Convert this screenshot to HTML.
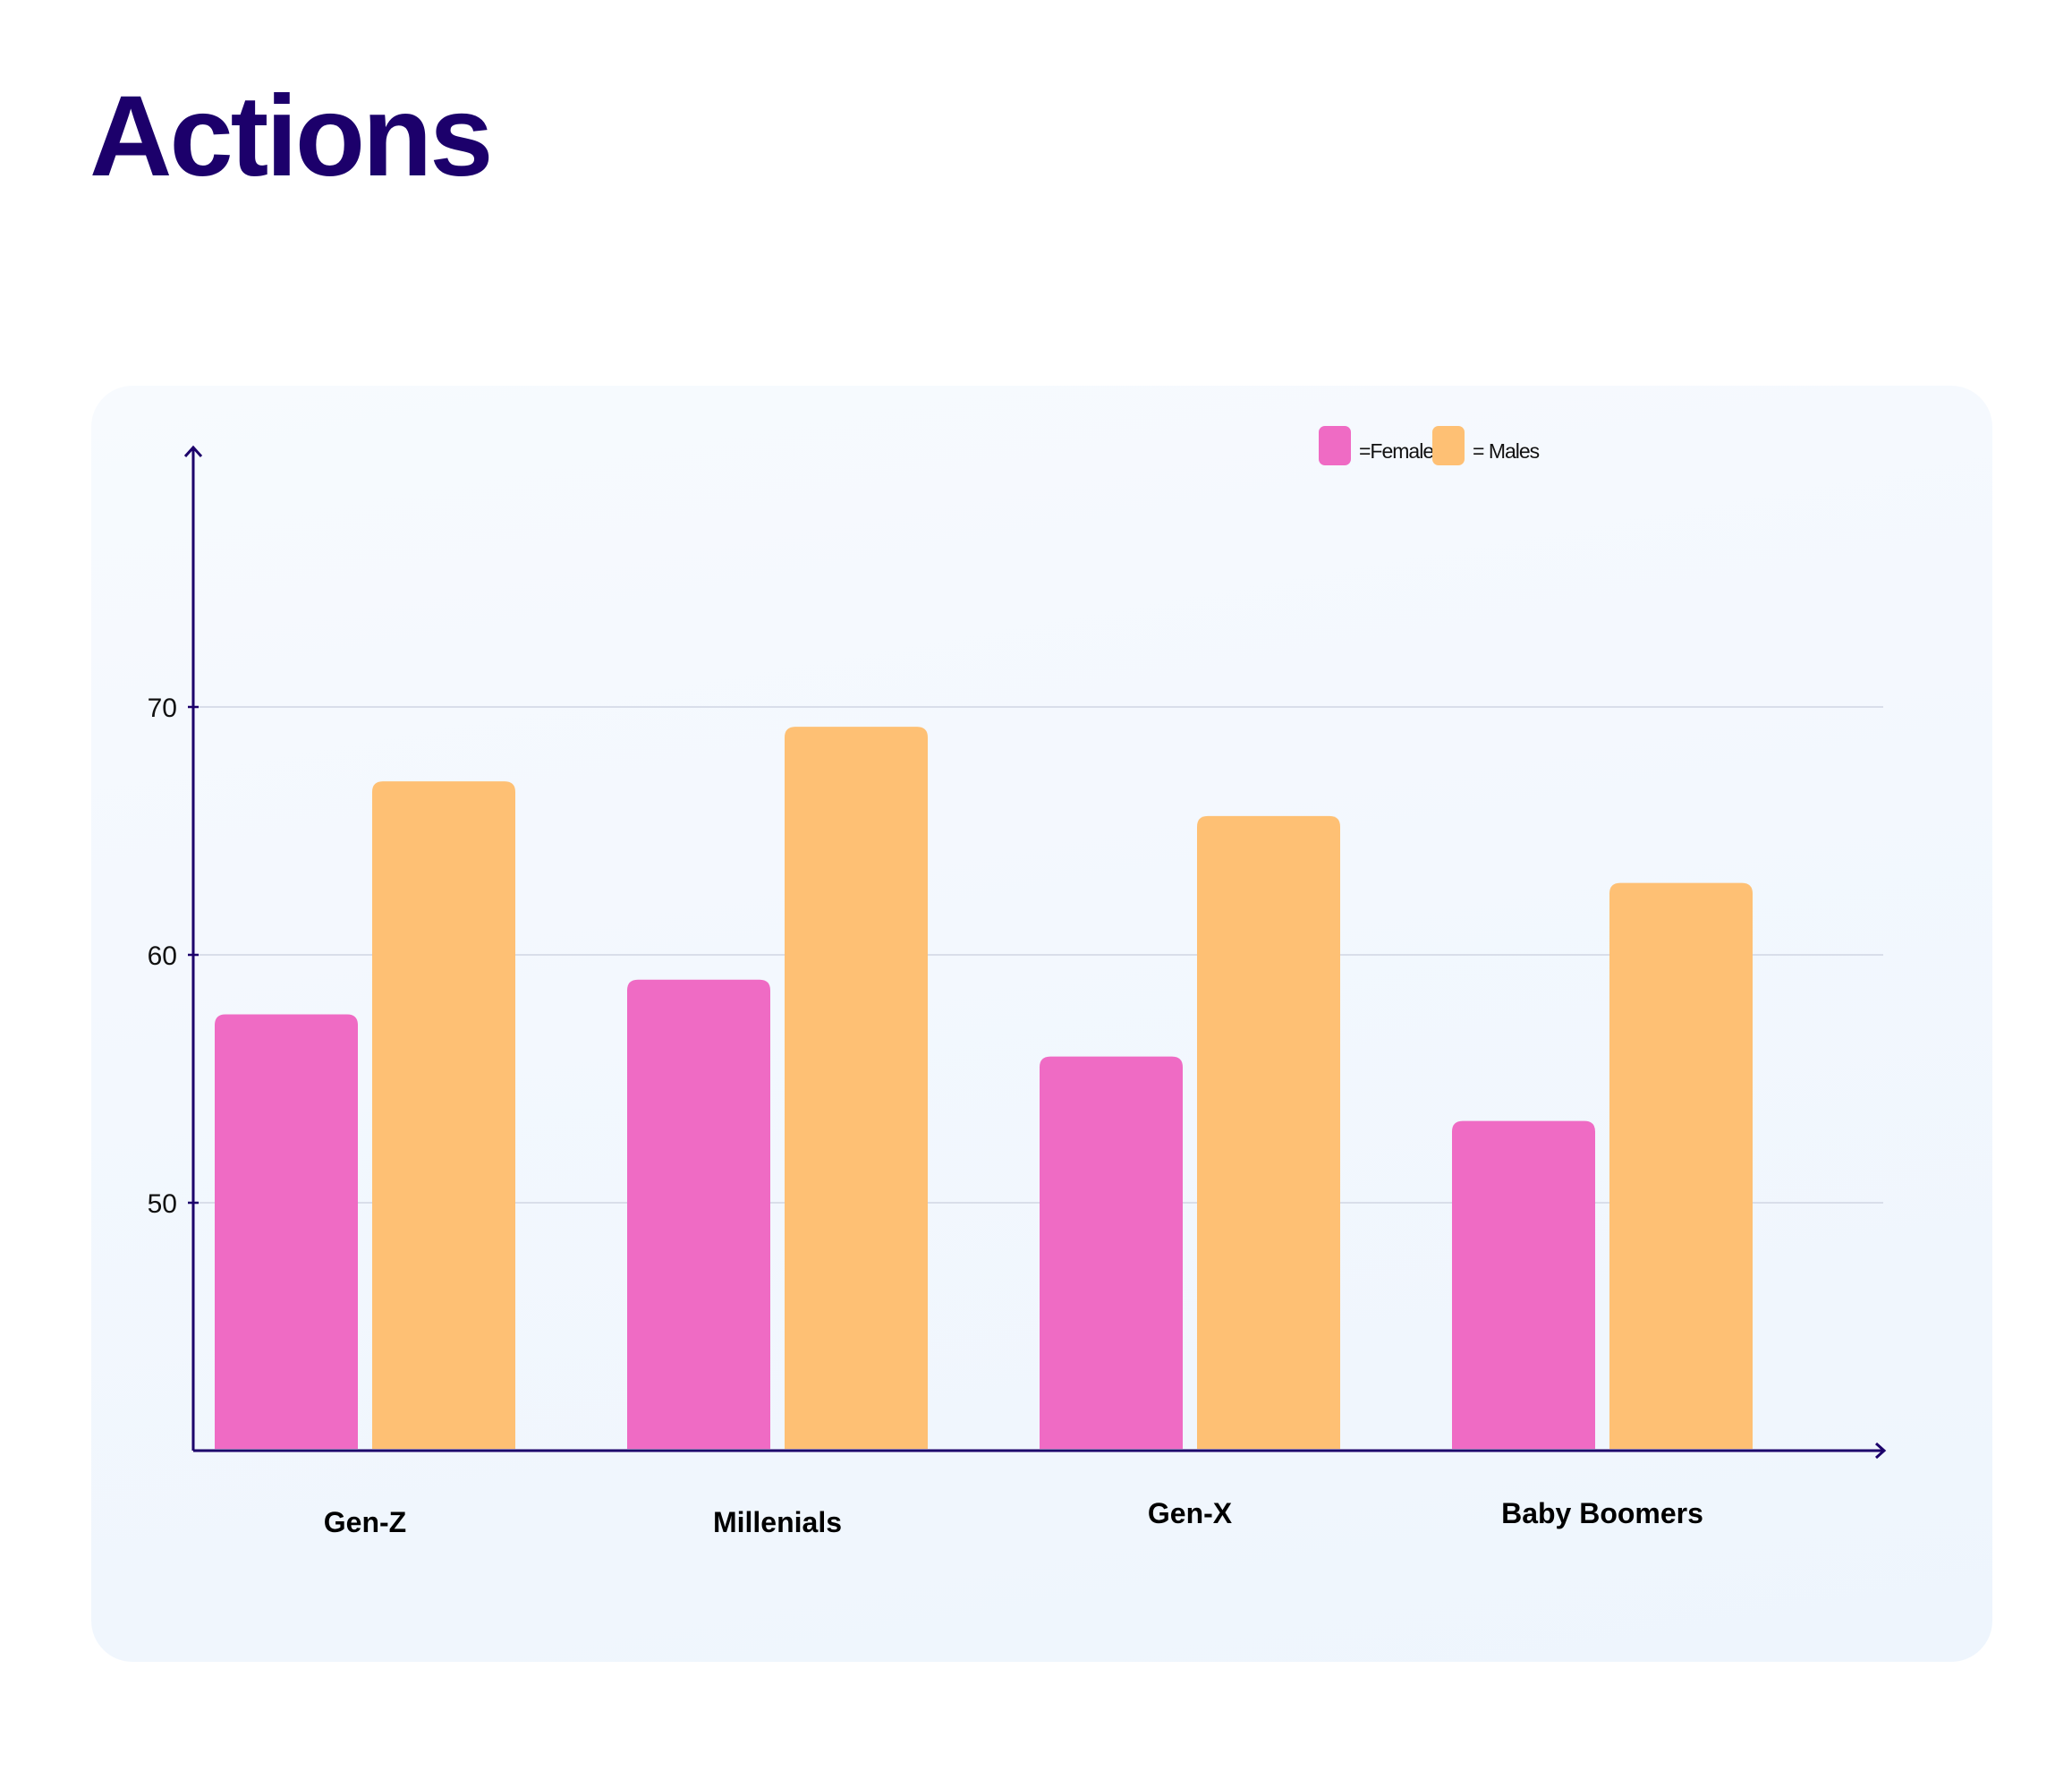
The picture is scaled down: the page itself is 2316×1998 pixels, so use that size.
<!DOCTYPE html>
<html><head><meta charset="utf-8"><style>
html,body{margin:0;padding:0;background:#fff;}
body{width:2316px;height:1998px;position:relative;overflow:hidden;font-family:"Liberation Sans",sans-serif;}
#title{position:absolute;left:100px;top:76px;font-size:128px;font-weight:900;color:#1c006b;letter-spacing:-3px;margin:0;line-height:1.2;}
#card{position:absolute;left:102px;top:431px;width:2125px;height:1426px;border-radius:46px;background:linear-gradient(170deg,#f7fafe,#eef5fd);}
svg{position:absolute;left:0;top:0;}
</style></head><body>
<h1 id="title">Actions</h1>
<div id="card"></div>
<svg id="chart" width="2316" height="1998"></svg>
<script>
const categories=["Gen-Z","Millenials","Gen-X","Baby Boomers"];
const females=[57.6,59.0,55.9,53.3];
const males=[67.0,69.2,65.6,62.9];
const yTicks=[50,60,70];
const NS="http://www.w3.org/2000/svg";
const svg=document.getElementById('chart');
const yMin=40,yMax=70,y0px=1621,y1px=790;
function y(v){return y0px-(v-yMin)*(y0px-y1px)/(yMax-yMin);}
const band0=240,bandStep=461,barW=160,gap=16;
function x(i){return band0+i*bandStep;}
function el(t,a){const e=document.createElementNS(NS,t);for(const k in a)e.setAttribute(k,a[k]);svg.appendChild(e);return e;}
function barPath(x0,top,w,bot,r){return `M${x0},${bot}V${top+r}Q${x0},${top} ${x0+r},${top}H${x0+w-r}Q${x0+w},${top} ${x0+w},${top+r}V${bot}Z`;}
yTicks.forEach(t=>{
  const g=el('line',{x1:222,x2:2105,y1:y(t),y2:y(t),stroke:'#d9deea','stroke-width':2});
  
  
  const tk=el('line',{x1:210,x2:222,y1:y(t),y2:y(t),stroke:'#1c006b','stroke-width':2.5});
  
  
  const tx=el('text',{x:198,y:y(t)+11,'text-anchor':'end','font-size':30,fill:'#111','font-family':'Liberation Sans, sans-serif'});
  tx.textContent=t;
  
  
});
categories.forEach((c,i)=>{
  const bf=el('path',{d:barPath(x(i),y(females[i]),barW,y0px-2,12),fill:'#ef6bc4'});
  
  
  const bm=el('path',{d:barPath(x(i)+barW+gap,y(males[i]),barW,y0px-2,12),fill:'#fec074'});
  
  
  const lb=el('text',{x:x(i)+barW+gap/2,y:1712-(i>=2?10:0),'text-anchor':'middle','font-size':32,'font-weight':'bold',fill:'#000','font-family':'Liberation Sans, sans-serif'});
  lb.textContent=c;
  
  
});
const ya=el('path',{d:`M216,${y0px} V500 M207,510 L216,500 L225,510`,stroke:'#1c006b','stroke-width':3,fill:'none'});


const xa=el('path',{d:`M216,${y0px} H2106 M2097,${y0px-8} L2106,${y0px} L2097,${y0px+8}`,stroke:'#1c006b','stroke-width':3,fill:'none'});


</script>
<svg width="2316" height="1998" style="pointer-events:none">
<g>
<rect x="1474" y="476" width="36" height="44" rx="7" fill="#ef6bc4"/>
<text x="1519" y="512" font-size="23" fill="#111" font-family="Liberation Sans, sans-serif" letter-spacing="-1">=Females</text>
<rect x="1601" y="476" width="36" height="44" rx="7" fill="#fec074"/>
<text x="1646" y="512" font-size="23" fill="#111" font-family="Liberation Sans, sans-serif" letter-spacing="-1">= Males</text>
</g>
</svg>
</body></html>
